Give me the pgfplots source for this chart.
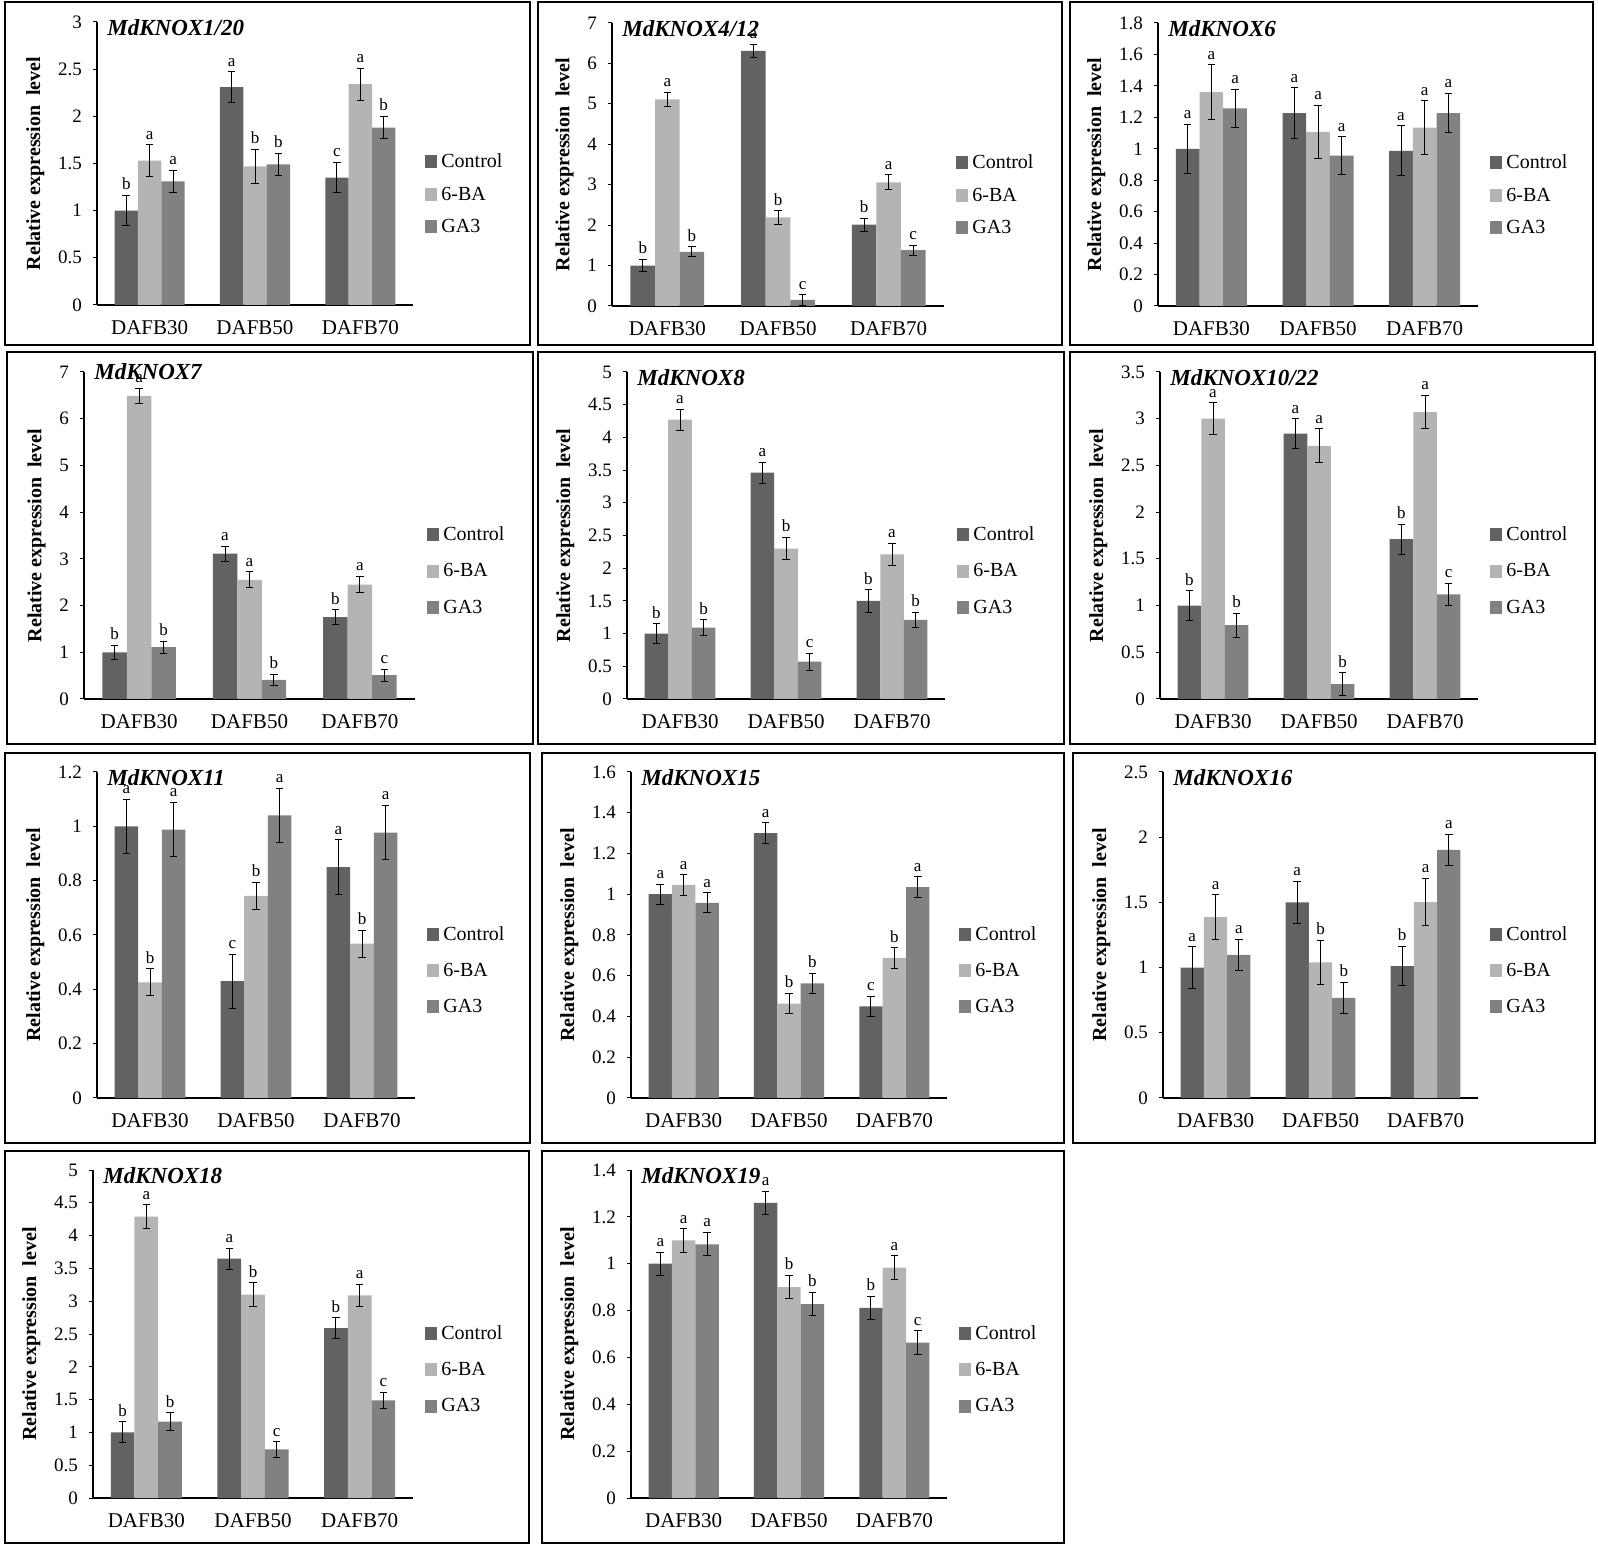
\documentclass[border=0pt]{standalone}
\usepackage{pgfplots}
\pgfplotsset{compat=1.18}
\usepackage{pgfplotstable}
\usepackage{fontspec}
\setmainfont{Liberation Serif}

\definecolor{cC}{RGB}{98,98,98}
\definecolor{cB}{RGB}{180,180,180}
\definecolor{cG}{RGB}{129,129,129}

% x: 0=DAFB30 1=DAFB50 2=DAFB70 ; c/b/g = Control/6-BA/GA3 ; e = error ; l = letter
\pgfplotstableread{
x c ce cl b be bl g ge gl
0 1.00 0.16 b 1.53 0.17 a 1.31 0.12 a
1 2.31 0.16 a 1.47 0.18 b 1.49 0.12 b
2 1.35 0.16 c 2.34 0.17 a 1.88 0.12 b
}\tA
\pgfplotstableread{
x c ce cl b be bl g ge gl
0 1.00 0.15 b 5.11 0.18 a 1.34 0.12 b
1 6.31 0.16 a 2.19 0.17 b 0.15 0.13 c
2 2.01 0.16 b 3.06 0.18 a 1.38 0.12 c
}\tB
\pgfplotstableread{
x c ce cl b be bl g ge gl
0 1.00 0.155 a 1.36 0.175 a 1.257 0.12 a
1 1.227 0.16 a 1.107 0.17 a 0.957 0.12 a
2 0.987 0.16 a 1.135 0.17 a 1.227 0.125 a
}\tC
\pgfplotstableread{
x c ce cl b be bl g ge gl
0 1.00 0.15 b 6.49 0.16 a 1.11 0.13 b
1 3.11 0.16 a 2.55 0.17 a 0.41 0.12 b
2 1.75 0.16 b 2.45 0.18 a 0.51 0.13 c
}\tD
\pgfplotstableread{
x c ce cl b be bl g ge gl
0 1.00 0.15 b 4.27 0.16 a 1.09 0.12 b
1 3.46 0.16 a 2.30 0.17 b 0.57 0.13 c
2 1.50 0.17 b 2.21 0.17 a 1.21 0.12 b
}\tE
\pgfplotstableread{
x c ce cl b be bl g ge gl
0 1.00 0.16 b 3.00 0.17 a 0.79 0.13 b
1 2.84 0.16 a 2.71 0.18 a 0.16 0.12 b
2 1.71 0.16 b 3.07 0.18 a 1.12 0.12 c
}\tF
\pgfplotstableread{
x c ce cl b be bl g ge gl
0 1.00 0.10 a 0.426 0.05 b 0.988 0.10 a
1 0.43 0.10 c 0.744 0.05 b 1.04 0.10 a
2 0.85 0.10 a 0.568 0.05 b 0.977 0.10 a
}\tG
\pgfplotstableread{
x c ce cl b be bl g ge gl
0 1.00 0.05 a 1.046 0.05 a 0.958 0.05 a
1 1.30 0.05 a 0.463 0.05 b 0.562 0.05 b
2 0.45 0.05 c 0.688 0.05 b 1.035 0.05 a
}\tH
\pgfplotstableread{
x c ce cl b be bl g ge gl
0 1.00 0.16 a 1.387 0.17 a 1.098 0.12 a
1 1.50 0.16 a 1.04 0.17 b 0.767 0.12 b
2 1.012 0.15 b 1.503 0.18 a 1.903 0.12 a
}\tI
\pgfplotstableread{
x c ce cl b be bl g ge gl
0 1.00 0.16 b 4.29 0.18 a 1.166 0.13 b
1 3.65 0.16 a 3.10 0.18 b 0.74 0.12 c
2 2.59 0.16 b 3.09 0.17 a 1.49 0.12 c
}\tJ
\pgfplotstableread{
x c ce cl b be bl g ge gl
0 1.00 0.05 a 1.10 0.05 a 1.083 0.05 a
1 1.26 0.05 a 0.90 0.05 b 0.828 0.05 b
2 0.812 0.05 b 0.983 0.05 a 0.663 0.05 c
}\tK

\pgfplotsset{
  kbase/.style={
    scale only axis, clip=false,
    xmin=-0.5, xmax=2.5,
    axis lines*=left, axis line style={-, line width=0.8pt, black},
    xtick={0,1,2}, xticklabels={DAFB30,DAFB50,DAFB70},
    x tick style={draw=none},
    ytick pos=left, tick align=outside, major tick length=2pt,
    y tick style={black, line width=0.5pt},
    /pgf/number format/assume math mode=true,
    yticklabel style={font=\fontsize{9.5}{11}\selectfont, xshift=-2pt},
    xticklabel style={font=\fontsize{10.5}{12}\selectfont, yshift=-2.3pt},
    ylabel={Relative expression\ \ level},
    ylabel style={font=\bfseries\fontsize{10}{12}\selectfont},
    title style={at={(rel axis cs:0,1)}, anchor=north west, xshift=5pt, yshift=-4.5pt, inner sep=0pt,
      font=\bfseries\itshape\fontsize{11.5}{13}\selectfont},
    legend cell align=left,
    legend style={draw=none, fill=none, at={(rel axis cs:1,0.39)}, anchor=west, xshift=3pt,
      font=\fontsize{10}{12}\selectfont, row sep=4pt},
    legend image code/.code={\draw[#1, draw=none] (0pt,-3pt) rectangle (6pt,3.5pt);},
    error bars/error bar style={draw=black, line width=0.5pt},
    error bars/error mark options={draw=black, rotate=90, mark size=1.9pt, line width=0.5pt},
  },
  kbar/.style={ybar, bar width=0.222, bar shift=0, draw=none, fill=#1,
    error bars/y dir=both, error bars/y explicit},
  lbl/.style={draw=none, mark=none, forget plot, nodes near coords,
    point meta=explicit symbolic,
    nodes near coords style={anchor=south, font=\fontsize{8.5}{10}\selectfont,
      text=black, inner sep=1pt, yshift=1.5pt}},
}

% #1 extra opts, #2 table, #3 left px, #4 right px, #5 y0 px, #6 ytop px, #7 ymax, #8 ticks, #9 title
\newcommand{\panel}[9][]{%
  \pgfmathsetmacro\axx{#3*0.5}%
  \pgfmathsetmacro\axy{(1546-#5)*0.5}%
  \pgfmathsetmacro\axw{(#4-#3)*0.5}%
  \pgfmathsetmacro\axh{(#5-#6)*0.5}%
  \begin{axis}[kbase, at={(\axx pt,\axy pt)}, anchor=south west,
      width=\axw pt, height=\axh pt, ymin=0, ymax=#7, ytick={#8},
      title={#9}, #1]
    \addplot[kbar=cC] table[x expr=\thisrow{x}-0.222, y=c, y error=ce]{#2};
    \addlegendentry{Control}
    \addplot[kbar=cB] table[x=x, y=b, y error=be]{#2};
    \addlegendentry{6-BA}
    \addplot[kbar=cG] table[x expr=\thisrow{x}+0.222, y=g, y error=ge]{#2};
    \addlegendentry{GA3}
    \addplot[lbl] table[x expr=\thisrow{x}-0.222, y expr=\thisrow{c}+\thisrow{ce}, meta=cl]{#2};
    \addplot[lbl] table[x expr=\thisrow{x}, y expr=\thisrow{b}+\thisrow{be}, meta=bl]{#2};
    \addplot[lbl] table[x expr=\thisrow{x}+0.222, y expr=\thisrow{g}+\thisrow{ge}, meta=gl]{#2};
  \end{axis}}

\newcommand{\frm}[4]{\draw[line width=1pt] ({#1*0.5pt},{(1546-#2)*0.5pt}) rectangle ({#3*0.5pt},{(1546-#4)*0.5pt});}

\begin{document}
\begin{tikzpicture}
\useasboundingbox (0,0) rectangle (799pt,773pt);
\frm{5}{2}{530}{345}
\frm{538}{2}{1062}{345}
\frm{1070}{2}{1593}{345}
\frm{7}{352}{533}{744}
\frm{538}{352}{1064}{744}
\frm{1070}{352}{1595}{744}
\frm{5}{753}{530}{1143}
\frm{542}{753}{1064}{1143}
\frm{1073}{753}{1595}{1143}
\frm{5}{1151}{529}{1543}
\frm{542}{1151}{1064}{1543}

\panel{\tA}{97}{413}{305}{22}{3}{0,0.5,1,1.5,2,2.5,3}{MdKNOX1/20}
\panel{\tB}{612}{944}{306}{23}{7}{0,1,2,3,4,5,6,7}{MdKNOX4/12}
\panel{\tC}{1158}{1478}{306}{23}{1.8}{0,0.2,0.4,0.6,0.8,1,1.2,1.4,1.6,1.8}{MdKNOX6}

\panel[legend style={row sep=6pt}, title style={yshift=3pt}]{\tD}{84}{415}{699}{372}{7}{0,1,2,3,4,5,6,7}{MdKNOX7}
\panel[legend style={row sep=6pt}]{\tE}{627}{945}{699}{372}{5}{0,0.5,1,1.5,2,2.5,3,3.5,4,4.5,5}{MdKNOX8}
\panel[legend style={row sep=6pt}]{\tF}{1160}{1478}{699}{372}{3.5}{0,0.5,1,1.5,2,2.5,3,3.5}{MdKNOX10/22}

\panel[legend style={row sep=6pt}]{\tG}{97}{415}{1098}{772}{1.2}{0,0.2,0.4,0.6,0.8,1,1.2}{MdKNOX11}
\panel[legend style={row sep=6pt}]{\tH}{631}{947}{1098}{772}{1.6}{0,0.2,0.4,0.6,0.8,1,1.2,1.4,1.6}{MdKNOX15}
\panel[legend style={row sep=6pt}]{\tI}{1163}{1478}{1098}{772}{2.5}{0,0.5,1,1.5,2,2.5}{MdKNOX16}

\panel[legend style={row sep=6pt}]{\tJ}{93}{413}{1498}{1170}{5}{0,0.5,1,1.5,2,2.5,3,3.5,4,4.5,5}{MdKNOX18}
\panel[legend style={row sep=6pt}]{\tK}{631}{947}{1498}{1170}{1.4}{0,0.2,0.4,0.6,0.8,1,1.2,1.4}{MdKNOX19}
\end{tikzpicture}
\end{document}
